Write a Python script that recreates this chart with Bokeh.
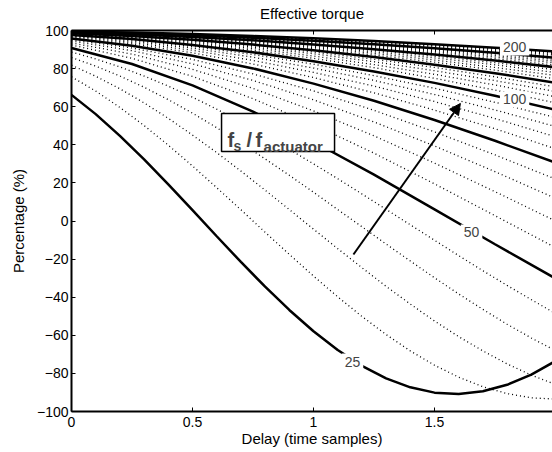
from bokeh.plotting import figure
from bokeh.models import Range1d, FixedTicker, LinearAxis, Label, Arrow, NormalHead, BoxAnnotation
from bokeh.embed import file_html
from bokeh.resources import INLINE

# delay (time samples)
delay_fine = [0.0, 0.1, 0.2, 0.3, 0.4, 0.5, 0.6, 0.7, 0.8, 0.9, 1.0,
              1.1, 1.2, 1.3, 1.4, 1.5, 1.6, 1.7, 1.8, 1.9, 2.0]
delay_coarse = [0.0, 0.25, 0.5, 0.75, 1.0, 1.25, 1.5, 1.75, 2.0]

# effective torque (%) for each fs / f_actuator ratio
r25 = [66.2, 56.1, 44.7, 32.4, 19.2, 5.7, -8, -21.5, -34.5, -46.7, -57.9, -67.7, -76, -82.6, -87.3, -90.1, -90.8, -89.4, -86, -80.6, -73.5]
r30 = [75.7, 68.2, 59.6, 50.1, 39.8, 28.9, 17.5, 5.9, -5.9, -17.5, -28.9, -39.8, -50.1, -59.6, -68.2, -75.7, -82, -87, -90.6, -92.8, -93.5]
r35 = [81.8, 76, 69.4, 62, 53.9, 45.1, 35.9, 26.2, 16.2, 6, -4.3, -14.5, -24.5, -34.3, -43.6, -52.5, -60.7, -68.2, -75, -80.9, -85.8]
r40 = [85.8, 81.3, 76.1, 70.2, 63.7, 56.6, 49, 41, 32.6, 24, 15.1, 6, -3, -12.1, -21, -29.8, -38.3, -46.4, -54.2, -61.4, -68.1]
r45 = [88.7, 85.1, 80.9, 76.1, 70.8, 65, 58.7, 52, 45, 37.6, 30, 22.2, 14.2, 6.1, -2, -10.1, -18.2, -26.1, -33.8, -41.3, -48.6]
r50 = [90.8, 82.4, 71.2, 57.4, 41.6, 24.3, 6.1, -12.2, -30.2]
r55 = [92.4, 85.4, 75.9, 64.2, 50.6, 35.6, 19.5, 2.8, -14]
r60 = [93.5, 87.6, 79.6, 69.6, 57.8, 44.7, 30.4, 15.4, 0]
r65 = [94.5, 89.4, 82.5, 73.8, 63.6, 52, 39.4, 25.9, 11.9]
r70 = [95.2, 90.8, 84.8, 77.2, 68.3, 58.1, 46.8, 34.7, 22]
r75 = [95.8, 92, 86.7, 80.1, 72.1, 63.1, 53, 42.1, 30.6]
r80 = [96.3, 93, 88.3, 82.4, 75.3, 67.3, 58.2, 48.4, 37.9]
r85 = [96.8, 93.7, 89.6, 84.3, 78, 70.8, 62.7, 53.8, 44.2]
r90 = [97.1, 94.4, 90.7, 86, 80.3, 73.8, 66.4, 58.3, 49.6]
r95 = [97.4, 95, 91.6, 87.4, 82.3, 76.3, 69.7, 62.3, 54.3]
r100 = [97.6, 95.5, 92.4, 88.6, 83.9, 78.5, 72.5, 65.7, 58.4]
r105 = [97.9, 95.9, 93.1, 89.6, 85.4, 80.5, 74.9, 68.7, 62]
r110 = [98.1, 96.2, 93.7, 90.5, 86.6, 82.1, 77, 71.4, 65.2]
r115 = [98.2, 96.6, 94.3, 91.3, 87.8, 83.6, 78.9, 73.7, 68]
r120 = [98.4, 96.8, 94.7, 92, 88.7, 84.9, 80.6, 75.7, 70.4]
r125 = [98.5, 97.1, 95.1, 92.6, 89.6, 86.1, 82, 77.6, 72.6]
r130 = [98.6, 97.3, 95.5, 93.2, 90.4, 87.1, 83.4, 79.2, 74.6]
r135 = [98.7, 97.5, 95.8, 93.7, 91.1, 88, 84.5, 80.6, 76.4]
r140 = [98.8, 97.7, 96.1, 94.1, 91.7, 88.8, 85.6, 82, 77.9]
r145 = [98.9, 97.8, 96.4, 94.5, 92.2, 89.6, 86.5, 83.1, 79.4]
r150 = [99, 98, 96.6, 94.9, 92.7, 90.2, 87.4, 84.2, 80.7]
r155 = [99, 98.1, 96.8, 95.2, 93.2, 90.9, 88.2, 85.2, 81.9]
r160 = [99.1, 98.2, 97, 95.5, 93.6, 91.4, 88.9, 86.1, 83]
r165 = [99.1, 98.3, 97.2, 95.7, 94, 91.9, 89.5, 86.9, 83.9]
r170 = [99.2, 98.4, 97.4, 96, 94.3, 92.4, 90.1, 87.6, 84.8]
r175 = [99.2, 98.5, 97.5, 96.2, 94.6, 92.8, 90.7, 88.3, 85.7]
r180 = [99.3, 98.6, 97.6, 96.4, 94.9, 93.2, 91.2, 88.9, 86.4]
r185 = [99.3, 98.7, 97.8, 96.6, 95.2, 93.5, 91.7, 89.5, 87.2]
r190 = [99.3, 98.7, 97.9, 96.8, 95.4, 93.9, 92.1, 90.1, 87.8]
r195 = [99.4, 98.8, 98, 96.9, 95.7, 94.2, 92.5, 90.5, 88.4]
r200 = [99.4, 98.9, 98.1, 97.1, 95.9, 94.5, 92.8, 91, 89]

ratios = [25, 30, 35, 40, 45, 50, 55, 60, 65, 70, 75, 80, 85, 90, 95, 100, 105, 110, 115, 120,
          125, 130, 135, 140, 145, 150, 155, 160, 165, 170, 175, 180, 185, 190, 195, 200]
series = [r25, r30, r35, r40, r45, r50, r55, r60, r65, r70, r75, r80, r85, r90, r95, r100, r105, r110,
          r115, r120, r125, r130, r135, r140, r145, r150, r155, r160, r165, r170, r175, r180, r185, r190, r195, r200]

x_ticks = [0, 0.5, 1, 1.5]
x_tick_labels = ["0", "0.5", "1", "1.5"]
y_ticks = [-100, -80, -60, -40, -20, 0, 20, 40, 60, 80, 100]
y_tick_labels = ["\u2212100", "\u221280", "\u221260", "\u221240", "\u221220", "0", "20", "40", "60", "80", "100"]

# inline labels of the bold curves
line_labels = ["200", "100", "50", "25"]
line_label_x = [1.831, 1.831, 1.653, 1.161]
line_label_y = [91.1, 63.8, -6.0, -73.8]

FONT = "Liberation Sans"
p = figure(width=552, height=452, output_backend="svg", toolbar_location=None,
           x_range=Range1d(0, 481 / 242), y_range=Range1d(-100, 100),
           min_border_left=71, min_border_right=0, min_border_top=30, min_border_bottom=41,
           x_axis_location=None, y_axis_location=None)
p.outline_line_color = None
p.xgrid.visible = False
p.ygrid.visible = False

def delays_for(vals):
    return delay_fine if len(vals) == len(delay_fine) else delay_coarse

for N, vals in zip(ratios, series):
    if N % 25 != 0:
        p.line(delays_for(vals), vals, line_color="black", line_width=1.3, line_dash="1 3")
for N, vals in zip(ratios, series):
    if N % 25 == 0:
        p.line(delays_for(vals), vals, line_color="black", line_width=2.5)

bottom = LinearAxis(ticker=FixedTicker(ticks=x_ticks),
                    major_label_overrides=dict(zip(x_ticks, x_tick_labels)),
                    axis_label="Delay (time samples)")
top = LinearAxis(ticker=FixedTicker(ticks=x_ticks), axis_label="Effective torque")
left = LinearAxis(ticker=FixedTicker(ticks=y_ticks),
                  major_label_overrides=dict(zip(y_ticks, y_tick_labels)),
                  axis_label="Percentage (%)")
for ax in (bottom, top, left):
    ax.axis_line_width = 2
    ax.axis_line_color = "black"
    ax.major_tick_line_color = "black"
    ax.major_tick_line_width = 1
    ax.minor_tick_line_color = None
    ax.major_tick_in = 4
    ax.major_tick_out = 0
    ax.major_label_text_font = FONT
    ax.major_label_text_font_size = "14px"
    ax.major_label_text_color = "black"
    ax.axis_label_text_font = FONT
    ax.axis_label_text_font_size = "15px"
    ax.axis_label_text_font_style = "normal"
    ax.axis_label_text_color = "black"
top.major_label_text_font_size = "1px"
top.major_label_text_color = None
top.major_label_standoff = 0
top.axis_label_standoff = 9
bottom.major_label_standoff = 5
bottom.axis_label_standoff = 0
left.major_label_standoff = 3
left.axis_label_standoff = 7
p.add_layout(bottom, "below")
p.add_layout(top, "above")
p.add_layout(left, "left")

for t, x, y in zip(line_labels, line_label_x, line_label_y):
    p.add_layout(Label(x=x, y=y, text=t, text_font=FONT, text_font_size="14px", text_align="center",
                       text_baseline="middle", background_fill_color="white", padding=3))

p.add_layout(Arrow(end=NormalHead(size=11, fill_color="black", line_color="black"),
                   x_start=1.165, y_start=-17.6, x_end=1.607, y_end=61.7, line_width=2, line_color="black"))

bx0, bx1, by0, by1 = 0.620, 1.087, 36.5, 56.4
p.add_layout(BoxAnnotation(left=bx0, right=bx1, bottom=by0, top=by1, fill_color="white", fill_alpha=1,
                           line_color="black", line_width=1.5, line_alpha=1))
for t, xo, yo, sz in [("f", 6, 11, "20px"), ("s", 12, 5, "14px"), ("/", 25, 11, "20px"),
                      ("f", 34, 11, "20px"), ("actuator", 42, 5, "15px")]:
    p.add_layout(Label(x=bx0, y=by0, x_offset=xo, y_offset=yo, text=t, text_font=FONT, text_font_size=sz,
                       text_font_style="bold", text_baseline="alphabetic"))

open("out.html", "w").write(file_html(p, INLINE))
